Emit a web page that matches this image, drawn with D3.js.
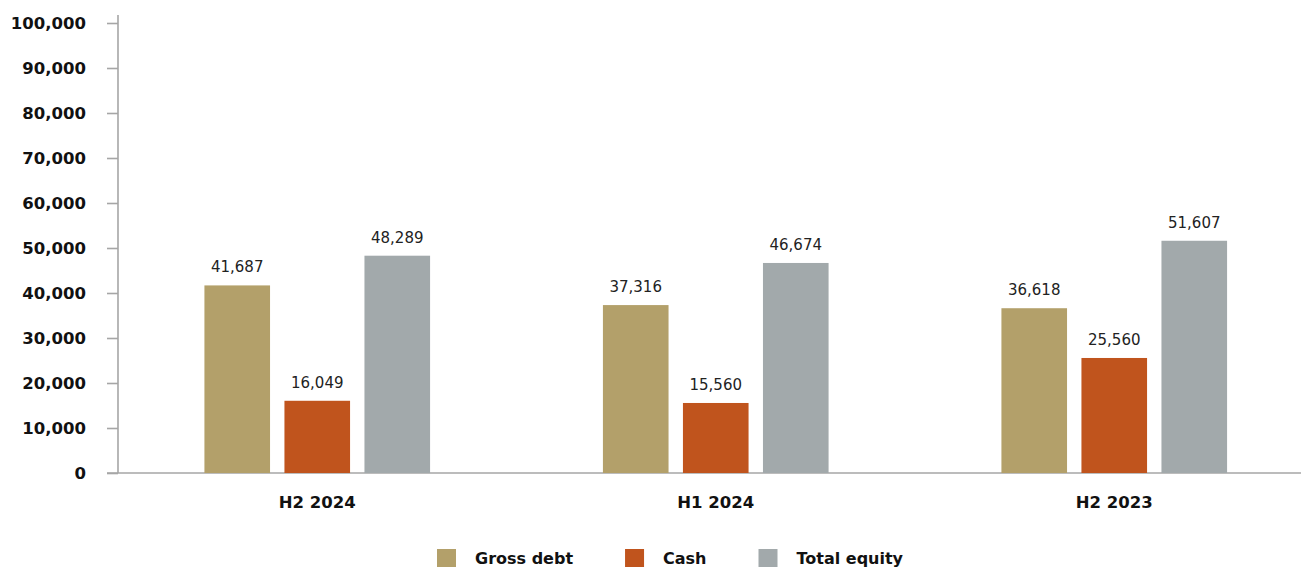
<!DOCTYPE html>
<html lang="en">
<head>
    <meta charset="UTF-8">
    <title>Debt, cash and equity</title>
    <script src="https://cdn.jsdelivr.net/npm/d3@7"></script>
    <style>
        body { margin: 0; background: #fff; }
        .axis path, .axis line { stroke: #a6a6a6; stroke-width: 1.6px; }
        .axis text { font-family: "DejaVu Sans", sans-serif; font-weight: bold; font-size: 16.5px; fill: #111; }
        .value { font-family: "DejaVu Sans", sans-serif; font-size: 15px; fill: #222; }
        .legend text { font-family: "DejaVu Sans", sans-serif; font-weight: bold; font-size: 16px; fill: #111; }
    </style>
</head>
<body>
<script>
    // data
    const periods = ["H2 2024", "H1 2024", "H2 2023"]
    const seriesNames = ["Gross debt", "Cash", "Total equity"]
    const grossDebt = [41687, 37316, 36618]
    const cash = [16049, 15560, 25560]
    const totalEquity = [48289, 46674, 51607]
    const yTicks = [0, 10000, 20000, 30000, 40000, 50000, 60000, 70000, 80000, 90000, 100000]
    const colors = ["#b3a06a", "#c0541d", "#a2a9ab"]

    const width = 1301, height = 567
    const svg = d3.select("body").append("svg").attr("width", width).attr("height", height)

    const rows = periods.map((p, i) => ({period: p, values: [grossDebt[i], cash[i], totalEquity[i]]}))

    const scaleX = d3.scaleBand().domain(periods).range([118, 1313.5]).paddingInner(0).paddingOuter(0)
    const scaleX1 = d3.scaleBand().domain(seriesNames).range([0, scaleX.bandwidth()])
        .paddingInner(0.18).paddingOuter(1.08)
    const scaleY = d3.scaleLinear().domain([0, 100000]).range([473, 23])

    // y axis
    const yAxis = svg.append("g").attr("class", "axis")
        .attr("transform", "translate(118,0)")
        .call(d3.axisLeft(scaleY).tickValues(yTicks).tickSize(11).tickPadding(21)
            .tickFormat(d3.format(",")).tickSizeOuter(0))
    yAxis.select(".domain").attr("d", "M0,15V473")

    // x axis line
    svg.append("line").attr("class", "axisline")
        .attr("x1", 107).attr("x2", width).attr("y1", scaleY(0)).attr("y2", scaleY(0))
        .attr("stroke", "#a6a6a6").attr("stroke-width", 1.6)

    svg.append("g").attr("class", "axis")
        .selectAll("text").data(periods).join("text")
        .attr("x", d => scaleX(d) + scaleX.bandwidth() / 2)
        .attr("y", 508)
        .attr("text-anchor", "middle")
        .text(d => d)

    // bars
    const groups = svg.append("g").selectAll("g").data(rows).join("g")
        .attr("transform", d => `translate(${scaleX(d.period)},0)`)

    const cells = groups.selectAll("g").data(d => d.values.map((v, j) => ({name: seriesNames[j], value: v, j: j})))
        .join("g")

    cells.append("rect")
        .attr("x", d => scaleX1(d.name))
        .attr("width", scaleX1.bandwidth())
        .attr("y", d => scaleY(d.value))
        .attr("height", d => scaleY(0) - scaleY(d.value))
        .attr("fill", d => colors[d.j])

    cells.append("text").attr("class", "value")
        .attr("x", d => scaleX1(d.name) + scaleX1.bandwidth() / 2)
        .attr("y", d => scaleY(d.value) - 13)
        .attr("text-anchor", "middle")
        .text(d => d3.format(",")(d.value))

    // legend (bottom edge clips it, as in the source)
    const legend = svg.append("g").attr("class", "legend")
    let lx = 437
    seriesNames.forEach((name, i) => {
        legend.append("rect").attr("x", lx).attr("y", 549).attr("width", 19).attr("height", 19).attr("fill", colors[i])
        const t = legend.append("text").attr("x", lx + 38).attr("y", 564).text(name)
        lx = lx + 38 + t.node().getComputedTextLength() + 52
    })
</script>
</body>
</html>
